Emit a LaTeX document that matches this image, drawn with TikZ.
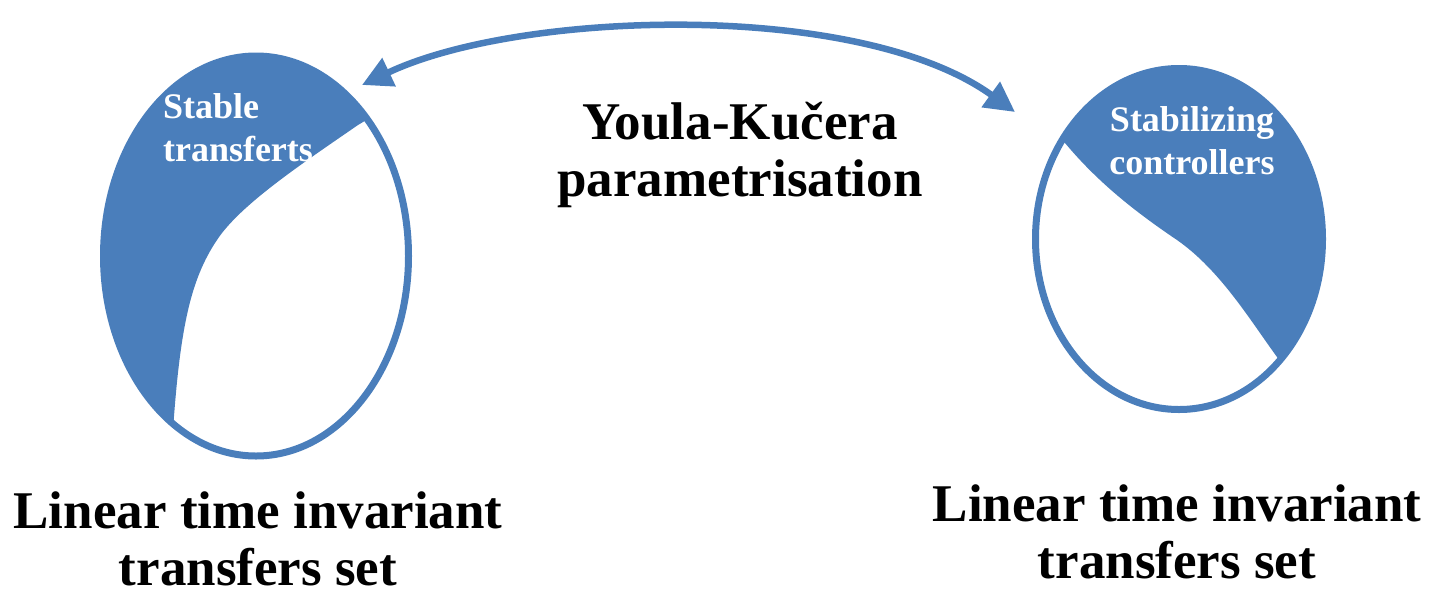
\documentclass[tikz,border=0pt]{standalone}
\usepackage{fontspec}
\setmainfont{Liberation Serif}
\usetikzlibrary{arrows.meta}
\usetikzlibrary{shapes.geometric}
\definecolor{ykblue}{RGB}{74,126,187}

\begin{document}
\begin{tikzpicture}[x=1pt,y=-1pt]
\tikzstyle{set}=[ellipse,draw=ykblue,line width=7pt,inner sep=0pt]
\tikzstyle{caption}=[align=center,inner sep=0pt,font=\fontsize{53}{57}\selectfont\bfseries]
\tikzstyle{inset}=[inner sep=0pt,text=white,font=\fontsize{36}{43}\selectfont\bfseries]
\tikzstyle{twoway}=[draw=ykblue,line width=6.5pt,{Triangle[length=30pt,width=30pt]}-{Triangle[length=30pt,width=30pt]}]
\useasboundingbox (0,0) rectangle (1429,595);

\begin{scope}
\clip (256,256) ellipse [x radius=153,y radius=200];
\fill[ykblue] (400,100) -- (358,125) .. controls (300,165) and (240,205) .. (217,240)
  .. controls (190,280) and (180,330) .. (173,430) -- (170,480) -- (60,480) -- (60,20) -- (420,20) -- cycle;
\end{scope}
\begin{scope}
\clip (1179,239) ellipse [x radius=144,y radius=171];
\fill[ykblue] (1040,110) -- (1065,143) .. controls (1100,185) and (1140,215) .. (1177,240)
  .. controls (1220,270) and (1250,320) .. (1277,357) -- (1300,395) -- (1360,395) -- (1360,40) -- (1040,40) -- cycle;
\end{scope}

\node [set,minimum width=305,minimum height=400] (lts) at (256,256) {};
\node [set,minimum width=287,minimum height=341] (stc) at (1179,239) {};

\node [inset,align=left] (stab) at (238,128) {Stable\\transferts};
\node [inset,align=center] (ctrl) at (1192,141) {Stabilizing\\controllers};

\node [caption] (yk) at (740,155) {Youla-Kučera\\parametrisation};
\node [caption] (lcap) at (258,539) {Linear time invariant\\transfers set};
\node [caption] (rcap) at (1177,532) {Linear time invariant\\transfers set};

\coordinate (ltip) at (362,85);
\coordinate (rtip) at (1015,112);
\draw [twoway] (ltip) .. controls (520,10) and (860,0) .. (rtip);
\end{tikzpicture}
\end{document}
